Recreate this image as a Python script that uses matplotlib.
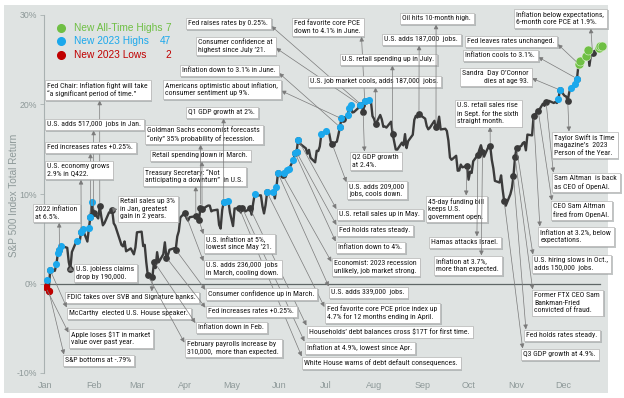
import matplotlib
matplotlib.use('Agg')
import matplotlib.pyplot as plt
import matplotlib.dates as mdates
from matplotlib import font_manager
from matplotlib.lines import Line2D
from matplotlib.patches import Rectangle
import matplotlib.patheffects as pe
import numpy as np
import pandas as pd

# ---------------- data ----------------
jan = [-0.39, 0.37, -0.79, 1.48, 1.42, 2.13, 3.44, 3.79, 4.21, 3.99, 2.38, 1.60, 3.52, 4.75, 4.67, 4.65, 5.80, 6.07, 4.69, 6.22]
feb = [7.48, 9.06, 7.93, 7.27, 8.65, 7.45, 6.50, 6.74, 7.95, 7.92, 8.22, 6.73, 6.44, 4.31, 4.15, 4.70, 3.60, 3.92, 3.60]
mar = [3.26, 4.04, 5.72, 5.79, 4.18, 4.32, 2.40, 0.92, 0.77, 2.43, 1.72, 3.50, 2.36, 3.27, 4.60, 2.89, 3.19, 3.77, 3.94, 3.78, 5.25, 5.85, 7.38]
apr = [7.92, 7.30, 7.03, 7.41, 7.52, 7.52, 7.07, 8.49, 8.27, 8.62, 8.71, 8.70, 8.06, 8.16, 8.25, 6.55, 6.14, 8.21, 9.09]
may = [9.20, 7.94, 7.19, 6.42, 8.38, 8.43, 7.93, 8.42, 8.23, 8.06, 8.38, 7.69, 8.97, 9.99, 9.83, 9.85, 8.62, 7.83, 8.77, 10.18, 10.20, 9.51]
jun = [10.74, 12.34, 12.11, 12.37, 11.95, 12.64, 12.76, 13.81, 14.59, 14.68, 16.07, 15.65, 15.10, 14.50, 14.93, 14.05, 13.54, 14.83, 14.80, 15.31, 16.71]
jul = [17.05, 16.82, 15.90, 15.57, 15.85, 16.62, 17.48, 18.46, 18.34, 18.80, 19.63, 19.91, 19.11, 19.15, 19.63, 19.96, 19.94, 19.18, 20.35, 20.52]
aug = [20.35, 18.70, 18.40, 17.78, 18.83, 18.34, 17.51, 17.54, 17.42, 18.08, 16.73, 15.86, 14.98, 14.96, 15.74, 15.43, 16.69, 15.13, 15.90, 16.62, 18.29, 18.74, 18.55]
sep = [18.91, 18.42, 17.60, 17.23, 17.40, 18.18, 17.51, 17.66, 18.64, 17.21, 17.29, 17.04, 15.96, 14.08, 13.82, 14.27, 12.60, 12.63, 13.29, 12.98]
oct_ = [13.14, 11.60, 12.50, 12.35, 13.66, 14.37, 14.96, 15.45, 14.73, 14.17, 15.36, 15.35, 13.82, 12.87, 11.47, 11.28, 12.08, 10.49, 9.20, 8.69, 9.98, 10.68]
nov = [12.03, 14.11, 15.16, 15.36, 15.68, 15.80, 14.88, 16.64, 16.55, 18.74, 18.93, 19.07, 19.22, 20.09, 19.85, 20.33, 20.40, 20.17, 20.28, 20.17, 20.62]
dec = [21.62, 20.97, 20.90, 20.44, 21.38, 21.87, 22.34, 22.89, 24.55, 24.87, 24.86, 25.42, 26.14, 24.32, 25.58, 25.78, 26.31, 26.49, 26.53, 26.18]

market_holidays = ['2023-01-02', '2023-01-16', '2023-02-20', '2023-04-07', '2023-05-29',
                   '2023-06-19', '2023-07-04', '2023-09-04', '2023-11-23', '2023-12-25']
prior_all_time_high = 24.0

legend_labels = ['New All-Time Highs', 'New 2023 Highs', 'New 2023 Lows']
legend_counts = [7, 47, 2]

month_labels = ['Jan', 'Feb', 'Mar', 'Apr', 'May', 'Jun', 'Jul', 'Aug', 'Sep', 'Oct', 'Nov', 'Dec']
y_ticks = [-10, 0, 10, 20, 30]

ann_texts = [
    "Fed Chair: Inflation fight will take\n\u201ca significant period of time.\u201d",
    "U.S. adds 517,000  jobs in Jan.",
    "Fed increases rates +0.25%.",
    "U.S. economy grows\n2.9% in Q422.",
    "2022 inflation\nat 6.5%.",
    "U.S. jobless claims\ndrop by 190,000.",
    "Retail sales up 3%\nin Jan, greatest\ngain in 2 years.",
    "FDIC takes over SVB and Signature banks.",
    "McCarthy  elected U.S. House speaker.",
    "Apple loses $1T in market\nvalue over past year.",
    "S&P bottoms at -.79%",
    "Treasury Secretary: \u201cNot\nanticipating a downturn\u201d  in U.S.",
    "Retail spending down in March.",
    "Goldman Sachs economist forecasts\n\u201conly\u201d 35% probability of recession.",
    "Q1 GDP growth at 2%.",
    "Americans optimistic about inflation,\nconsumer sentiment up 9%.",
    "Inflation down to 3.1% in June.",
    "Consumer confidence at\nhighest since July \u201921.",
    "Fed raises rates by 0.25%.",
    "Fed favorite core PCE\ndown to 4.1% in June.",
    "U.S. job market cools, adds 187,000  jobs.",
    "U.S. retail spending up in July.",
    "U.S. adds 187,000  jobs.",
    "Oil hits 10-month high.",
    "Q2 GDP growth\nat 2.4%.",
    "U.S. adds 209,000\njobs, cools down.",
    "U.S. retail sales up in May.",
    "Fed holds rates steady.",
    "Inflation down to 4%.",
    "Economist: 2023 recession\nunlikely, job market strong.",
    "U.S. adds 339,000  jobs.",
    "Fed favorite core PCE price index up\n4.7% for 12 months ending in April.",
    "Households\u2019 debt balances cross $17T for first time.",
    "Inflation at 4.9%, lowest since Apr.",
    "White House warns of debt default consequences.",
    "U.S. inflation at 5%,\nlowest since May \u201921.",
    "U.S. adds 236,000  jobs\nin March, cooling down.",
    "Consumer confidence up in March.",
    "Fed increases rates +0.25%.",
    "Inflation down in Feb.",
    "February payrolls increase by\n310,000,  more than expected.",
    "45-day funding bill\nkeeps U.S.\ngovernment open.",
    "Hamas attacks Israel.",
    "Inflation at 3.7%,\nmore than expected.",
    "U.S. retail sales rise\nin Sept. for the sixth\nstraight month.",
    "Sandra  Day O\u2019Connor\ndies at age 93.",
    "Inflation cools to 3.1%.",
    "Fed leaves rates unchanged.",
    "Inflation below expectations,\n6-month core PCE at 1.9%.",
    "Taylor Swift is Time\nmagazine\u2019s  2023\nPerson of the Year.",
    "Sam Altman  is back\nas CEO of OpenAI.",
    "CEO Sam Altman\nfired from OpenAI.",
    "Inflation at 3.2%, below\nexpectations.",
    "U.S. hiring slows in Oct.,\nadds 150,000  jobs.",
    "Former FTX CEO Sam\nBankman-Fried\nconvicted of fraud.",
    "Fed holds rates steady.",
    "Q3 GDP growth at 4.9%.",
]
ann_dates = [
    '2023-02-07', '2023-02-03', '2023-02-01', '2023-01-26', '2023-01-12', '2023-01-19',
    '2023-02-15', '2023-03-13', '2023-01-06', '2023-01-03', '2023-01-05',
    '2023-04-10', '2023-04-14', '2023-04-13', '2023-04-28', '2023-07-14', '2023-07-12',
    '2023-07-25', '2023-07-26', '2023-07-28', '2023-08-04', '2023-08-15', '2023-09-01',
    '2023-09-12', '2023-07-27', '2023-07-07', '2023-06-15', '2023-06-14', '2023-06-13',
    '2023-06-05', '2023-06-02', '2023-05-26', '2023-05-15', '2023-05-10', '2023-05-08',
    '2023-04-12', '2023-04-03', '2023-03-28', '2023-03-22', '2023-03-14', '2023-03-10',
    '2023-10-02', '2023-10-09', '2023-10-12', '2023-10-17', '2023-12-01', '2023-12-12',
    '2023-12-13', '2023-12-22', '2023-12-06', '2023-11-22', '2023-11-17', '2023-11-14',
    '2023-11-03', '2023-11-02', '2023-11-01', '2023-10-26',
]

# ---------------- layout (pixel positions of callout boxes: left, top) ----------------
W, H = 624, 398
ann_box_px = [
    (45, 80), (45, 119), (45, 142), (45, 161), (33, 204), (74, 264),
    (118, 196), (65, 292), (67, 308), (69, 329), (63, 355),
    (143, 167), (150, 150), (145, 125), (186, 107), (163, 80), (180, 65),
    (196, 37), (186, 18), (292, 18), (308, 76), (340, 54), (382, 34),
    (400, 13), (350, 152), (347, 181), (337, 209), (337, 225), (336, 242),
    (332, 258), (329, 287), (325, 303), (307, 326), (305, 342), (302, 357),
    (204, 234), (204, 260), (206, 288), (206, 306), (196, 322), (185, 339),
    (426, 196), (429, 237), (434, 256), (455, 100), (460, 68), (463, 50),
    (465, 36), (514, 9), (552, 132), (552, 173), (551, 201), (538, 227),
    (532, 255), (532, 290), (524, 330), (521, 349),
]
right_aligned = {"Sandra  Day O\u2019Connor\ndies at age 93."}

# ---------------- fonts ----------------
def pick_font(cands):
    for c in cands:
        try:
            font_manager.findfont(font_manager.FontProperties(family=c), fallback_to_default=False)
            return c
        except Exception:
            continue
    return 'DejaVu Sans'

narrow = pick_font(['Roboto Condensed', 'Liberation Sans Narrow', 'DejaVu Sans Condensed', 'Liberation Sans'])
regular = pick_font(['Liberation Sans', 'Roboto', 'DejaVu Sans'])
ann_fs = 5.6 if narrow != 'Liberation Sans' else 4.8

# ---------------- series ----------------
dates = pd.bdate_range('2023-01-03', '2023-12-29')
dates = dates[~dates.isin(pd.to_datetime(market_holidays))]
values = np.array(jan + feb + mar + apr + may + jun + jul + aug + sep + oct_ + nov + dec)
n = min(len(dates), len(values))
dates, values = dates[:n], values[:n]
series = pd.Series(values, index=dates)

run_max = np.maximum.accumulate(values)
run_min = np.minimum.accumulate(values)
is_high = np.r_[False, values[1:] > run_max[:-1]]
is_low = np.r_[True, values[1:] < run_min[:-1]]
is_ath = is_high & (values > prior_all_time_high)
is_high23 = is_high & ~is_ath

# ---------------- figure ----------------
fig = plt.figure(figsize=(W / 100, H / 100), dpi=100)
fig.patch.set_facecolor('white')
fig.add_artist(Rectangle((4 / W, 1 - 393 / H), (608 - 4) / W, (393 - 5) / H,
                         transform=fig.transFigure, facecolor='#dfe3e2', edgecolor='none', zorder=0))

ax = fig.add_axes([44 / W, 1 - 373 / H, (608 - 44) / W, (373 - 15) / H])
ax.set_facecolor('none')
ax.set_xlim(pd.Timestamp('2023-01-02'), pd.Timestamp('2024-01-01'))
ax.set_ylim(-10, 30)
for s in ['top', 'right', 'bottom']:
    ax.spines[s].set_visible(False)
ax.spines['left'].set_color('#a9b1b1')
ax.spines['left'].set_linewidth(0.8)
ax.set_yticks(y_ticks)
ax.set_yticklabels([f'{v}%' for v in y_ticks])
ax.tick_params(axis='y', colors='#a9b1b1', labelcolor='#8e9999', labelsize=6.3, length=3, width=0.6, pad=2)
mticks = [pd.Timestamp(2023, m, 1) + pd.Timedelta(days=2) for m in range(1, 13)]
ax.set_xticks(mticks)
ax.set_xticklabels(month_labels)
ax.tick_params(axis='x', length=0, labelcolor='#8e9999', labelsize=6.5, pad=6)
for lab in ax.get_xticklabels() + ax.get_yticklabels():
    lab.set_family(regular)

ax.axhline(0, xmin=0, xmax=0.985, color='#5f6666', lw=0.9, zorder=1)

ax.plot(dates, values, color='#3b3b3b', lw=1.7, zorder=3, solid_joinstyle='round')

# event markers
ev = pd.to_datetime(sorted(set(ann_dates)))
ev_vals = [series.asof(d) for d in ev]
ax.scatter(ev, ev_vals, s=24, color='#3a3a3a', zorder=4, linewidths=0)
ax.scatter(dates[is_high23], values[is_high23], s=26, color='#1ba8ec', zorder=5, linewidths=0)
ax.scatter(dates[is_ath], values[is_ath], s=42, color='#6fbf44', edgecolors='#e6f2dc', linewidths=0.4, zorder=6)
ax.scatter(dates[is_low], values[is_low], s=28, color='#c00000', zorder=6, linewidths=0)

fig.text(14 / W, 1 - 195 / H, 'S&P 500 Index Total Return', rotation=90, ha='center', va='center',
         color='#8e9999', fontsize=7.2, family=regular)

# legend
leg_colors = ['#6fbf44', '#1ba8ec', '#c00000']
for i, (lab, cnt, col) in enumerate(zip(legend_labels, legend_counts, leg_colors)):
    yy = 1 - (28 + 13.3 * i) / H
    fig.add_artist(Line2D([61 / W], [yy], marker='o', ms=5.5, color=col, mec=col, linestyle='none',
                          transform=fig.transFigure))
    fig.text(74 / W, yy, lab, color=col, fontsize=7.3, va='center', ha='left', family=regular)
    fig.text(171 / W, yy, str(cnt), color=col, fontsize=7.3, va='center', ha='right', family=regular)

# callouts
anns = []
for txt, d, (bx, by) in zip(ann_texts, ann_dates, ann_box_px):
    dt = pd.Timestamp(d)
    yv = series.asof(dt)
    pad_px = 2.4
    ra = txt in right_aligned
    a = ax.annotate(txt, xy=(dt, yv), xycoords='data',
                    xytext=(bx + pad_px, H - by - pad_px), textcoords='figure pixels',
                    ha='left', va='top', multialignment='right' if ra else 'left',
                    fontsize=ann_fs, family=narrow, color='#1a1a1a', linespacing=1.25,
                    bbox=dict(boxstyle='square,pad=0.35', fc='white', ec='#b5b5b5', lw=0.5),
                    arrowprops=dict(arrowstyle='<|-,head_length=0.45,head_width=0.22', mutation_scale=6,
                                    color='#7a7a7a', lw=0.5, shrinkA=0, shrinkB=2.5),
                    annotation_clip=False, zorder=7)
    a.get_bbox_patch().set_path_effects([pe.SimplePatchShadow(offset=(1.2, -1.2), shadow_rgbFace='#9aa0a0', alpha=0.6),
                                         pe.Normal()])
    anns.append((a, dt, yv))

fig.canvas.draw()
for a, dt, yv in anns:
    try:
        bb = a.get_bbox_patch().get_window_extent()
        px, py = ax.transData.transform((mdates.date2num(dt), yv))
        if bb.x0 <= px <= bb.x1:
            rx = (px - bb.x0) / bb.width
            ry = 0.0 if py < bb.y0 else 1.0
        elif px > bb.x1:
            rx, ry = 1.0, 0.5
        else:
            rx, ry = 0.0, 0.5
        a._arrow_relpos = (rx, ry)
    except Exception:
        pass

fig.savefig('out.png', dpi=100, facecolor='white')
